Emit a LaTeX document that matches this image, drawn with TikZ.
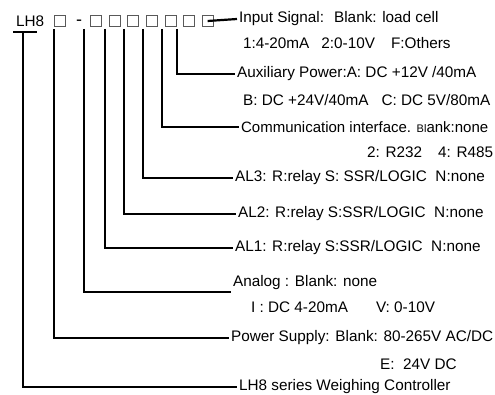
\documentclass[tikz,border=0pt]{standalone}
\usepackage{fontspec}
\setmainfont{Liberation Sans}

\begin{document}
\begin{tikzpicture}[x=1pt, y=-1pt, line width=2.2pt,
  lbl/.style={anchor=west, inner sep=1pt, font=\fontsize{15.3}{15.3}\selectfont},
  digit/.style={draw=black!65, line width=0.6pt, minimum size=11pt, inner sep=0pt}]
  \useasboundingbox (0,0) rectangle (495,395);

  % model code
  \node[lbl] (lh) at (14,21) {LH8};
  \node[digit] (b0) at (60,21) {};
  \node[font=\fontsize{18}{18}\selectfont, anchor=base, inner sep=0pt] (dash) at (79,26) {-};
  \foreach \i in {1,...,7}
    \node[digit] (b\i) at ({96+18.6*(\i-1)},21) {};

  % descriptions
  \node[lbl] (inp)  at (237,19)  {Input Signal:\hspace{10pt}Blank: load cell};
  \node[lbl] (inp2) at (241,43)  {1:4-20mA\hspace{12pt}2:0-10V\hspace{16pt}F:Others};
  \node[lbl] (aux)  at (235,74)  {Auxiliary Power:A: DC +12V /40mA};
  \node[lbl] (aux2) at (241,100) {B: DC +24V/40mA\hspace{13pt}C: DC 5V/80mA};
  \node[lbl, font=\fontsize{15}{15}\selectfont] (com) at (239,127)
    {Communication interface. {\fontsize{11}{11}\selectfont Bl}ank:none};
  \node[lbl] (com2) at (365,152) {2: R232\hspace{16pt}4: R485};
  \node[lbl] (al3)  at (233,178) {AL3: R:relay S: SSR/LOGIC\ \ N:none};
  \node[lbl] (al2)  at (236,214) {AL2: R:relay S:SSR/LOGIC\ \ N:none};
  \node[lbl] (al1)  at (233,248) {AL1: R:relay S:SSR/LOGIC\ \ N:none};
  \coordinate (ae) at (231,292);
  \node[lbl, anchor=south west] (ana) at (ae) {Analog : Blank: none};
  \node[lbl] (ana2) at (249,307) {I : DC 4-20mA\hspace{28pt}V: 0-10V};
  \node[lbl] (pow)  at (229,338) {Power Supply: Blank: 80-265V AC/DC};
  \node[lbl] (pow2) at (378,364) {E:\ \ 24V DC};
  \node[lbl] (ser)  at (237,387) {LH8 series Weighing Controller};

  % leader lines
  \coordinate (tl) at (13,32);
  \coordinate (tr) at (37,32);
  \coordinate (t0) at (23,32);
  \draw (tl) -- (tr);
  \draw (t0) |- (ser.west);
  \coordinate (t2) at (84,29);
  \draw (t2) |- (ae);
  \foreach \x/\t in {54/pow, 105/al1, 124/al2, 143/al3, 162/com, 177/aux} {
    \coordinate (top-\t) at (\x,29);
    \draw (top-\t) |- (\t.west);
  }
  \draw (b7.center) -- (inp.west);
\end{tikzpicture}
\end{document}
